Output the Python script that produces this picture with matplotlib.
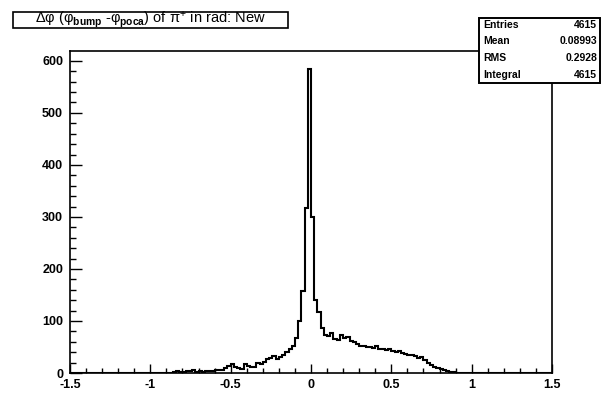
import numpy as np
import matplotlib
matplotlib.use("Agg")
import matplotlib.pyplot as plt
from matplotlib.patches import Rectangle
from matplotlib.ticker import MultipleLocator

# ---------------- data ----------------
x_min, x_max = -1.5, 1.5
bin_width = 0.02
first_edge = -0.86
counts = [
    2, 3, 2, 1, 3, 4, 5, 2, 3, 2,
    3, 4, 3, 6, 5, 6, 10, 13, 17, 12,
    9, 7, 18, 14, 11, 12, 19, 18, 21, 27,
    29, 33, 27, 30, 35, 40, 46, 52,
    68, 100, 157, 318, 585, 300, 140, 118,
    86, 74, 72, 76, 66, 64, 74, 68, 70, 62,
    60, 56, 52, 51, 50, 50, 49, 52, 47, 46,
    44, 46, 43, 40, 42, 39, 37, 35, 34, 32,
    28, 31, 25, 20, 15, 12, 9, 7, 5, 3, 2, 1,
]
y_max = 619

x_ticks = [-1.5, -1, -0.5, 0, 0.5, 1, 1.5]
x_tick_labels = ["-1.5", "-1", "-0.5", "0", "0.5", "1", "1.5"]
y_ticks = [0, 100, 200, 300, 400, 500, 600]
y_tick_labels = ["0", "100", "200", "300", "400", "500", "600"]

title = r"Δφ (φ$_{\mathbf{bump}}$ -φ$_{\mathbf{poca}}$) of π$^{+}$ in rad: New"
stat_names = ["Entries", "Mean", "RMS", "Integral"]
stat_values = ["4615", "0.08993", "0.2928", "4615"]

# ---------------- plot ----------------
plt.rcParams["font.family"] = ["Liberation Sans", "DejaVu Sans"]
plt.rcParams["mathtext.fontset"] = "custom"
plt.rcParams["mathtext.rm"] = "Liberation Sans"
plt.rcParams["mathtext.it"] = "Liberation Sans:italic"
plt.rcParams["mathtext.bf"] = "Liberation Sans:bold"

W, H = 605, 394
fig = plt.figure(figsize=(W / 100, H / 100), dpi=100)
fig.patch.set_facecolor("white")

n_bins = int(round((x_max - x_min) / bin_width))
edges = np.linspace(x_min, x_max, n_bins + 1)
full = np.zeros(n_bins)
start = int(round((first_edge - x_min) / bin_width))
full[start:start + len(counts)] = counts

ax_l, ax_r, ax_t, ax_b = 70, 552, 51, 373
ax = fig.add_axes([ax_l / W, (H - ax_b) / H, (ax_r - ax_l) / W, (ax_b - ax_t) / H])
ax.stairs(full, edges, color="black", lw=1.5)
ax.set_xlim(x_min, x_max)
ax.set_ylim(0, y_max)

ax.set_xticks(x_ticks)
ax.set_xticklabels(x_tick_labels, fontweight="bold")
ax.set_yticks(y_ticks)
ax.set_yticklabels(y_tick_labels, fontweight="bold")
ax.xaxis.set_minor_locator(MultipleLocator(0.1))
ax.yaxis.set_minor_locator(MultipleLocator(20))
ax.tick_params(which="both", direction="in", top=False, right=False, width=1.0,
               colors="black", labelsize=9)
ax.tick_params(axis="x", which="major", length=6.5, pad=4)
ax.tick_params(axis="x", which="minor", length=3.3)
ax.tick_params(axis="y", which="major", length=8.5, pad=5)
ax.tick_params(axis="y", which="minor", length=4.5)
for s in ax.spines.values():
    s.set_linewidth(1.2)
    s.set_color("black")

def fig_rect(x0, y0, x1, y1, lw):
    r = Rectangle((x0 / W, 1 - y1 / H), (x1 - x0) / W, (y1 - y0) / H,
                  transform=fig.transFigure, facecolor="white", edgecolor="black",
                  lw=lw, zorder=5)
    fig.patches.append(r)

# title box
fig_rect(13, 12, 288, 28, 1.2)
fig.text((13 + 288) / 2 / W, 1 - 20 / H, title, ha="center", va="center",
         fontsize=10.5, zorder=6)

# stats box
fig_rect(479, 18, 600, 83, 1.4)
ys = [25, 41.5, 58, 74.5]
for name, val, yy in zip(stat_names, stat_values, ys):
    fig.text(483 / W, 1 - yy / H, name, ha="left", va="center", fontsize=7.5,
             fontweight="bold", zorder=6)
    fig.text(597 / W, 1 - yy / H, val, ha="right", va="center", fontsize=7.5,
             fontweight="bold", zorder=6)

fig.savefig("out.png", dpi=100)
